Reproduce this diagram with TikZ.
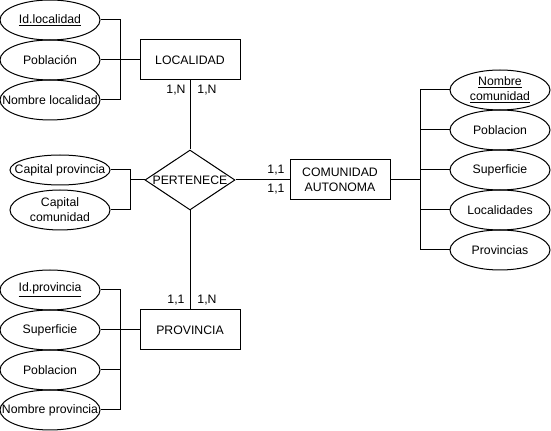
\documentclass[tikz,border=0pt]{standalone}
\usepackage{fontspec}
\setmainfont{Liberation Sans}
\usetikzlibrary{shapes.geometric}
\begin{document}
\begin{tikzpicture}[x=0.75pt,y=-0.75pt,
  font=\fontsize{9.2}{11.2}\selectfont,
  every path/.style={line width=0.75pt},
  ent/.style={draw,rectangle,minimum width=75pt,minimum height=30pt,inner sep=0pt,align=center},
  attr/.style={draw,ellipse,minimum width=75pt,minimum height=30pt,inner sep=0pt,align=center},
  rel/.style={draw,diamond,minimum width=67.5pt,minimum height=45pt,inner sep=0pt,aspect=1.5},
  card/.style={inner sep=0pt}]
\useasboundingbox (0,0) rectangle (551,431);
% entities
\node[ent] (loc) at (190,60) {LOCALIDAD};
\node[ent] (ca) at (340,180) {COMUNIDAD\\AUTONOMA};
\node[ent] (prov) at (190,330) {PROVINCIA};
\node[rel] (rel) at (190,180) {\makebox[0pt]{PERTENECE}};
% LOCALIDAD attributes
\node[attr] (l1) at (50,20) {\underline{Id.localidad}};
\node[attr] (l2) at (50,60) {Población};
\node[attr] (l3) at (50,100) {\makebox[0pt]{Nombre localidad}};
\coordinate (lj) at (120,60);
\draw (l1.east) -| (lj);
\draw (l3.east) -| (lj);
\draw (l2.east) -- (loc.west);
% relation attributes
\node[attr,minimum height=22.5pt] (r1) at (60,170) {\makebox[0pt]{Capital provincia}};
\node[attr] (r2) at (60,210) {Capital\\comunidad};
\coordinate (rj) at (130,180);
\draw (r1.east) -| (130,210) coordinate (rjb) -- (r2.east);
\draw (rj) -- (rel.west);
% COMUNIDAD attributes
\node[attr] (c1) at (500,90) {\underline{Nombre}\\\underline{comunidad}};
\node[attr] (c2) at (500,130) {Poblacion};
\node[attr] (c3) at (500,170) {Superficie};
\node[attr] (c4) at (500,210) {Localidades};
\node[attr] (c5) at (500,250) {Provincias};
\coordinate (cj) at (420,180);
\draw (c1.west) -| (420,250) coordinate (cjb) -- (c5.west);
\draw (c2.west) -- (c2.west -| cj);
\draw (c3.west) -- (c3.west -| cj);
\draw (c4.west) -- (c4.west -| cj);
\draw (ca.east) -- (cj);
% PROVINCIA attributes
\node[attr] (p1) at (50,290) {\underline{Id.provincia}};
\node[attr] (p2) at (50,330) {Superficie};
\node[attr] (p3) at (50,370) {Poblacion};
\node[attr] (p4) at (50,410) {\makebox[0pt]{Nombre provincia}};
\coordinate (pj) at (120,330);
\draw (p1.east) -| (120,410) coordinate (pjb) -- (p4.east);
\draw (p3.east) -- (p3.east -| pj);
\draw (p2.east) -- (prov.west);
% relationship connectors
\draw (loc.south) -- (rel.north);
\draw (rel.east) -- (ca.west);
\draw (rel.south) -- (prov.north);
% cardinalities
\node[card] (k1) at (176,90) {1,N};
\node[card] (k2) at (207,90) {1,N};
\node[card] (k3) at (276,170) {1,1};
\node[card] (k4) at (276,189) {1,1};
\node[card] (k5) at (176,300) {1,1};
\node[card] (k6) at (207,300) {1,N};
\end{tikzpicture}
\end{document}
